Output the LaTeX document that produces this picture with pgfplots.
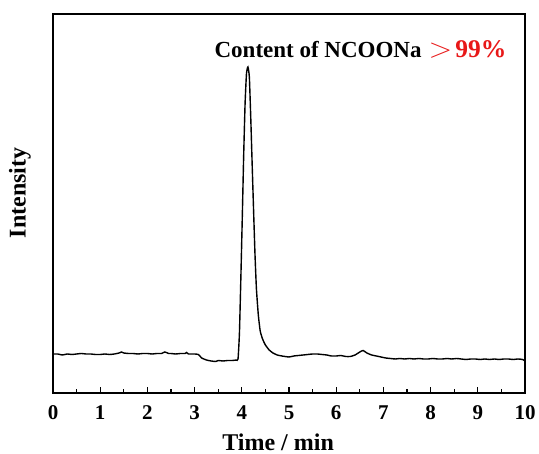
\documentclass[border=0pt]{standalone}
\usepackage{pgfplots}
\pgfplotsset{compat=1.18}
\usepackage{graphicx}
\usepackage{fontspec}
\setmainfont{Liberation Serif}
\definecolor{myred}{RGB}{232,24,24}
\begin{document}
\begin{tikzpicture}
\begin{axis}[
  scale only axis,
  width=472pt, height=379pt,
  at={(0,0)}, anchor=south west,
  xmin=0, xmax=10, ymin=0, ymax=379,
  xtick={0,1,...,10},
  minor x tick num=1,
  xtick pos=bottom,
  ytick=\empty,
  tick align=inside,
  major tick length=6pt,
  minor tick length=3.5pt,
  axis line style={line width=1.4pt},
  every tick/.style={line width=1.2pt, black},
  /pgf/number format/assume math mode=true,
  xticklabel style={font=\fontsize{21}{24}\selectfont\bfseries, yshift=-9pt},
  xlabel={Time / min},
  xlabel style={font=\fontsize{24}{28}\selectfont\bfseries, at={(axis description cs:0.477,0)}, anchor=center, yshift=-49pt},
  ylabel={Intensity},
  ylabel style={font=\fontsize{24}{28}\selectfont\bfseries, at={(axis description cs:-0.07,0.528)}, anchor=center, rotate=0},
  clip=false,
]
\addplot[black, line width=1.4pt, smooth, tension=0.3] coordinates {
(0.0,39) (0.1,39) (0.2,38) (0.3,39) (0.4,38.5) (0.5,39) (0.6,39.5) (0.7,39) (0.8,39) (0.9,38.5)
(1.0,38.5) (1.1,39) (1.2,38.5) (1.3,39) (1.4,40) (1.45,41) (1.5,40) (1.6,39.5) (1.7,39.5) (1.8,39)
(1.9,39.5) (2.0,39.5) (2.1,39) (2.2,39.5) (2.3,39.5) (2.37,41) (2.45,39.5) (2.5,39.5) (2.6,39)
(2.7,39.5) (2.8,39.5) (2.83,40.5) (2.87,39) (3.0,39) (3.08,38.5) (3.15,35) (3.25,33) (3.35,32)
(3.45,31.5) (3.5,32.5) (3.6,32) (3.7,32.5) (3.8,32.5) (3.88,33)
(3.92,34) (3.95,60) (3.98,115) (4.01,175) (4.04,238) (4.07,290) (4.10,320) (4.13,326)
(4.16,316) (4.19,275) (4.22,228) (4.25,182) (4.28,138) (4.31,104) (4.35,78) (4.39,62)
(4.44,54) (4.50,48) (4.58,43) (4.66,40) (4.75,38) (4.85,37) (5.0,36)
(5.1,37) (5.2,37.5) (5.3,38) (5.4,38.5) (5.5,39) (5.6,39) (5.7,38.5) (5.8,38) (5.9,37) (6.0,37)
(6.1,37.5) (6.2,36.5) (6.3,36.5) (6.4,38) (6.5,41) (6.57,42.5) (6.65,40) (6.75,38) (6.85,37)
(6.95,36) (7.05,35) (7.15,34.5) (7.25,34) (7.35,34.5) (7.45,34) (7.55,34.5) (7.65,34) (7.75,34.5)
(7.85,34) (7.95,34) (8.05,34.5) (8.15,34) (8.25,34) (8.35,34.5) (8.45,34) (8.55,34.5) (8.65,34)
(8.75,33.5) (8.85,34) (8.95,34) (9.05,33.5) (9.15,34) (9.25,33.5) (9.35,34) (9.45,33.5) (9.55,34)
(9.65,34) (9.75,33.5) (9.85,34) (9.95,33.5) (10.0,32)
};
\node[anchor=west, inner sep=0pt, font=\fontsize{23}{27}\selectfont\bfseries] at (axis cs:3.42,344)
  {Content of NCOONa\hspace{7pt}\textcolor{myred}{\fontsize{24}{28}\selectfont\scalebox{1.25}[1.1]{$>$}\fontsize{25.5}{30}\selectfont\hspace{3pt}99\%}};
\end{axis}
\pgfresetboundingbox
\path[use as bounding box] (-53pt,-61pt) rectangle (486pt,393pt);
\end{tikzpicture}
\end{document}
